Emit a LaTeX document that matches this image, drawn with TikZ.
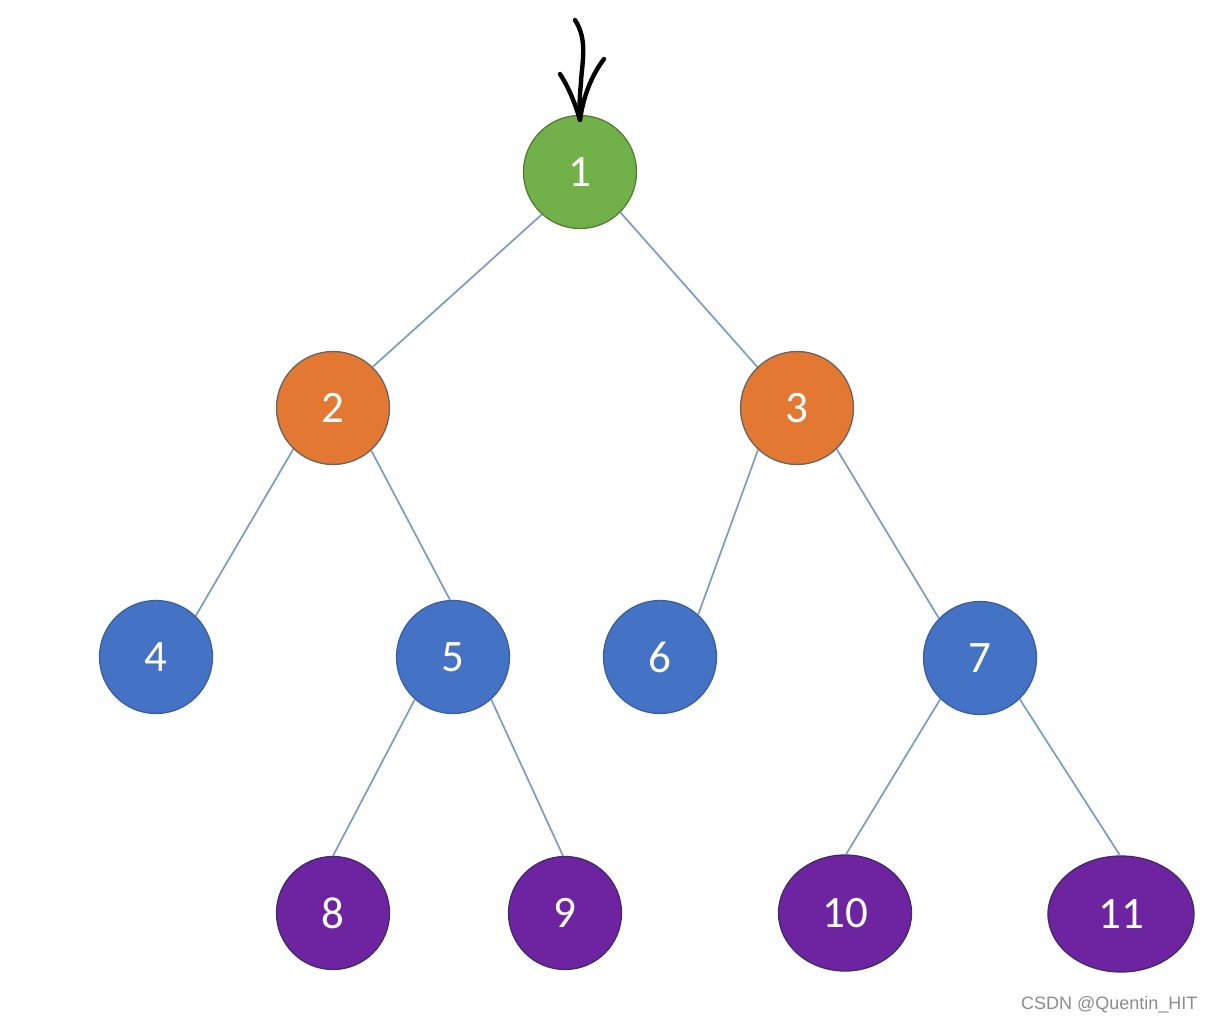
\documentclass[tikz,border=0pt]{standalone}
\usepackage{fontspec}
\setmainfont{Carlito}
\newfontfamily\wmfont{Liberation Sans}
\usetikzlibrary{shapes.geometric}
\definecolor{cgreen}{HTML}{72B04A}
\definecolor{cgreenl}{HTML}{4F7E33}
\definecolor{corange}{HTML}{E27831}
\definecolor{corangel}{HTML}{6A6460}
\definecolor{cblue}{HTML}{4472C4}
\definecolor{cbluel}{HTML}{3A5F9E}
\definecolor{cpurple}{HTML}{6E23A0}
\definecolor{cpurplel}{HTML}{3F2A6A}
\definecolor{cedge}{HTML}{7A9CC2}
\definecolor{cwm}{HTML}{8C8C8C}
\tikzset{
  treenode/.style={circle, inner sep=0pt, minimum size=113pt, line width=1.3pt,
    text=white, font=\fontsize{45}{45}\selectfont},
  gnode/.style={treenode, fill=cgreen, draw=cgreenl},
  onode/.style={treenode, fill=corange, draw=corangel},
  bnode/.style={treenode, fill=cblue, draw=cbluel},
  pnode/.style={treenode, fill=cpurple, draw=cpurplel},
  penode/.style={pnode, ellipse, minimum height=116pt},
  link/.style={draw=cedge, line width=1.7pt},
  handarrow/.style={draw=black, line width=4.4pt, line cap=round, line join=round}
}
\begin{document}
\begin{tikzpicture}[x=1pt,y=-1pt]
\useasboundingbox (0,0) rectangle (1215,1025);
\node[gnode] (n1) at (580,172) {1};
\node[onode] (n2) at (333,408) {2};
\node[onode] (n3) at (797,408) {3};
\node[bnode] (n4) at (156,657) {4};
\node[bnode] (n5) at (453,657) {5};
\node[bnode] (n6) at (660,657) {6};
\node[bnode] (n7) at (980,658) {7};
\node[pnode] (n8) at (333,913) {8};
\node[pnode] (n9) at (565,913) {9};
\node[penode, minimum width=133pt] (n10) at (845,913) {10};
\node[penode, minimum width=146pt] (n11) at (1121,914) {11};
\path[link] (n1.228) -- (n2.46);
\path[link] (n1.315) -- (n3.134);
\path[link] (n2.226) -- (n4.46);
\path[link] (n2.312) -- (n5.93);
\path[link] (n3.227) -- (n6.48);
\path[link] (n3.314) -- (n7.136);
\path[link] (n5.228) -- (n8.90);
\path[link] (n5.312) -- (n9.92);
\path[link] (n7.226) -- (n10.89);
\path[link] (n7.314) -- (n11.91);
% hand-drawn arrow
\coordinate (tip) at ([yshift=-5pt]n1.north);
\coordinate (tail) at (575,20);
\path[handarrow] (tail) .. controls (588,40) and (582,62) .. (581,82) .. controls (580,94) and (579,102) .. (tip);
\path[handarrow] (560,74) .. controls (567,85) and (573,97) .. (tip);
\path[handarrow] (604,59) .. controls (594,72) and (584,92) .. (tip);
\node[text=cwm, font=\wmfont\fontsize{18}{18}\selectfont, anchor=east] (wm) at (1201,1005) {CSDN @Quentin\_HIT};
\end{tikzpicture}
\end{document}
